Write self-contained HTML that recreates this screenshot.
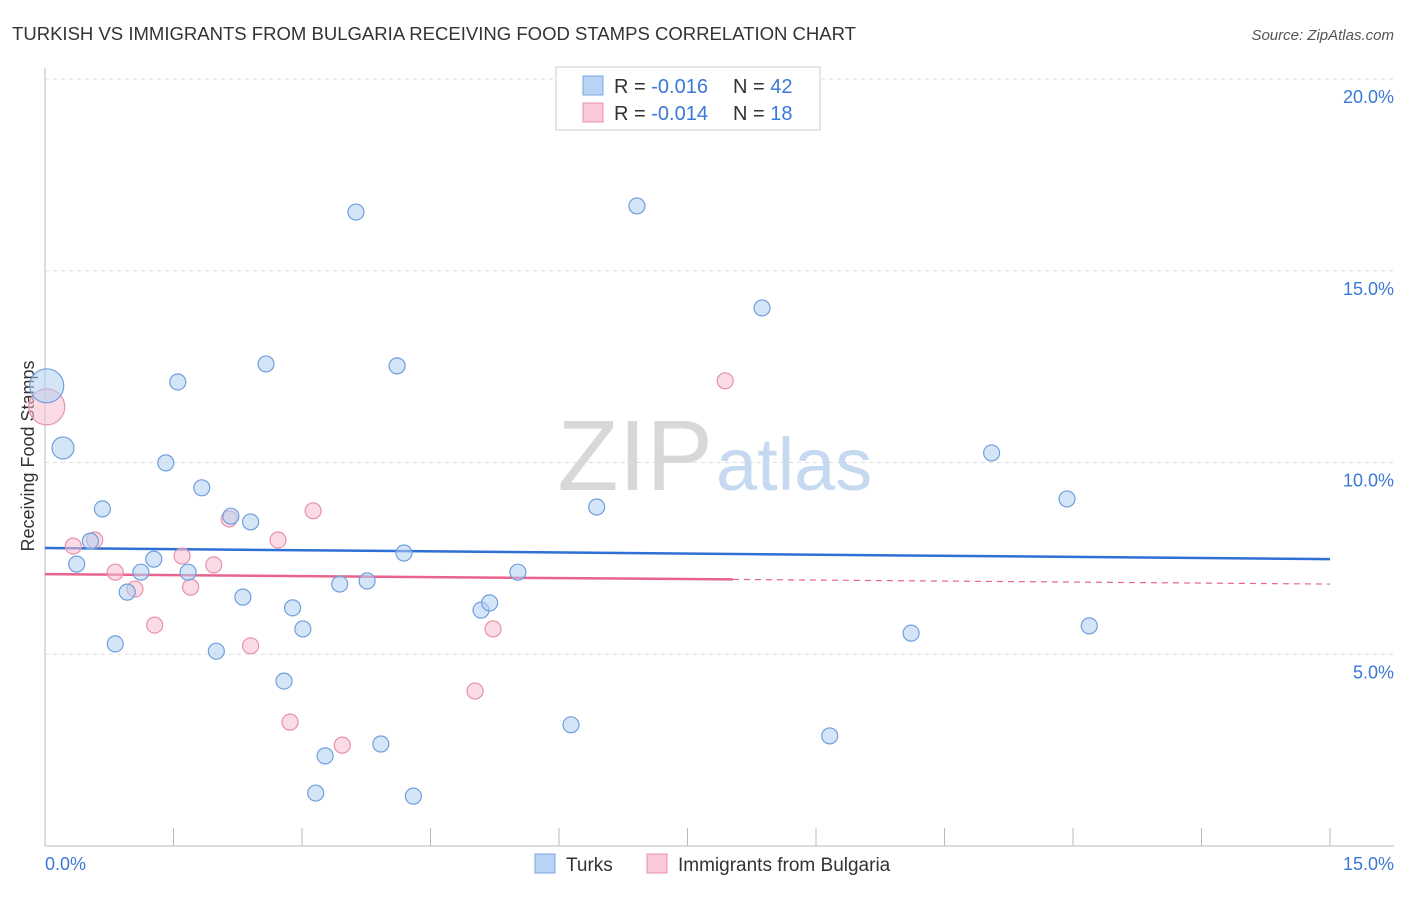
<!DOCTYPE html>
<html><head><meta charset="utf-8"><style>
body{margin:0;background:#fff;font-family:"Liberation Sans",sans-serif;}
svg text{font-family:"Liberation Sans",sans-serif;}
</style></head><body>
<svg id="chart" width="1406" height="892" xmlns="http://www.w3.org/2000/svg">
<text x="12" y="40" font-size="18" fill="#333" textLength="844" lengthAdjust="spacingAndGlyphs">TURKISH VS IMMIGRANTS FROM BULGARIA RECEIVING FOOD STAMPS CORRELATION CHART</text>
<text x="1394" y="40" font-size="15" fill="#555" text-anchor="end" font-style="italic">Source: ZipAtlas.com</text>
<g id="grid"></g>
<text x="713" y="490" font-size="100" fill="#d8d8d8" text-anchor="end" font-family="Liberation Serif">ZIP</text>
<text x="716" y="490" font-size="74" fill="#c5d9f0">atlas</text>
<g id="yticks"></g>
<text transform="translate(34,456) rotate(-90)" font-size="18" fill="#333" text-anchor="middle">Receiving Food Stamps</text>
<text x="45" y="870" font-size="18" fill="#3b78d8">0.0%</text>
<text x="1394" y="870" font-size="18" fill="#3b78d8" text-anchor="end">15.0%</text>
<g id="lines"></g>
<g id="pts"></g>
<g>
<rect x="556" y="67" width="264" height="63" fill="#fff" stroke="#ccc"/>
<rect x="583" y="76" width="20" height="19" fill="#b9d3f5" stroke="#7aa6e0"/>
<rect x="583" y="103" width="20" height="19" fill="#fac8d7" stroke="#e890ab"/>
<text x="614" y="93" font-size="20" fill="#333">R = <tspan fill="#3b78d8">-0.016</tspan><tspan x="733">N = </tspan><tspan fill="#3b78d8">42</tspan></text>
<text x="614" y="120" font-size="20" fill="#333">R = <tspan fill="#3b78d8">-0.014</tspan><tspan x="733">N = </tspan><tspan fill="#3b78d8"> 18</tspan></text>
</g>
<g>
<rect x="535" y="854" width="20" height="19" fill="#b9d3f5" stroke="#7aa6e0"/>
<text x="566" y="871" font-size="19" fill="#333">Turks</text>
<rect x="647" y="854" width="20" height="19" fill="#fac8d7" stroke="#e890ab"/>
<text x="678" y="871" font-size="19" fill="#333">Immigrants from Bulgaria</text>
</g>
</svg>
<script>
const yTicks=[5,10,15,20];
const turksX=[0.02,0.21,0.67,0.53,0.37,0.82,0.96,1.12,1.27,1.41,1.55,1.67,1.83,2.00,2.17,2.31,2.40,2.58,2.79,2.89,3.01,3.16,3.27,3.44,3.63,3.76,3.92,4.11,4.19,4.30,5.09,5.19,5.52,6.14,6.44,6.91,8.37,9.16,10.11,11.05,11.93,12.19];
const turksY=[12.0,10.38,8.79,7.95,7.35,5.27,6.62,7.14,7.48,9.99,12.10,7.14,9.34,5.08,8.60,6.49,8.45,12.57,4.30,6.21,5.66,1.38,2.35,6.83,16.53,6.91,2.66,12.52,7.64,1.30,6.15,6.34,7.14,3.16,8.84,16.69,14.03,2.87,5.55,10.25,9.05,5.74];
const turksR=[17,11,8,8,8,8,8,8,8,8,8,8,8,8,8,8,8,8,8,8,8,8,8,8,8,8,8,8,8,8,8,8,8,8,8,8,8,8,8,8,8,8];
const bulgX=[0.02,0.33,0.58,0.82,1.05,1.28,1.60,1.70,1.97,2.15,2.40,2.72,2.86,3.13,3.47,5.02,5.23,7.94];
const bulgY=[11.45,7.82,7.98,7.14,6.70,5.76,7.56,6.75,7.33,8.53,5.22,7.98,3.23,8.74,2.63,4.04,5.66,12.13];
const bulgR=[18,8,8,8,8,8,8,8,8,8,8,8,8,8,8,8,8,8];
const turksTrend=[7.77,7.48];
const bulgTrend=[7.09,6.83];
const bulgSolidEnd=8.03;
const X=v=>45+v/15*1285, Y=v=>846-v*38.35;
const NS="http://www.w3.org/2000/svg";
function mk(t,a,p){const e=document.createElementNS(NS,t);for(const k in a)e.setAttribute(k,a[k]);p.appendChild(e);return e;}
const grid=document.getElementById('grid'),yt=document.getElementById('yticks');
yTicks.forEach(t=>{
 const l=mk('line',{x1:45,x2:1394,y1:Y(t),y2:Y(t),stroke:'#ddd','stroke-dasharray':'4,4'},grid);
 
 
 const tx=mk('text',{x:1394,y:Y(t)+24,'font-size':18,fill:'#3b78d8','text-anchor':'end'},yt);
 tx.textContent=t.toFixed(1)+'%';
 
 
});
const ax=mk('line',{x1:45,x2:1394,y1:846,y2:846,stroke:'#bbb'},grid);


const ay=mk('line',{x1:45,x2:45,y1:68,y2:846,stroke:'#bbb'},grid);


for(let i=0;i<=10;i++){const tk=mk('line',{x1:X(i*1.5),x2:X(i*1.5),y1:828,y2:846,stroke:'#bbb'},grid);
 
 }
const lines=document.getElementById('lines'),pts=document.getElementById('pts');
function dot(x,y,r,f,s,n){const c=mk('circle',{cx:X(x),cy:Y(y),r:r,fill:f,'fill-opacity':0.55,stroke:s,'stroke-width':1.2},pts);
 
 }
bulgX.forEach((x,i)=>dot(x,bulgY[i],bulgR[i],'#f8bfd0','#e890ab','bulgaria-point'));
turksX.forEach((x,i)=>dot(x,turksY[i],turksR[i],'#b3cff3','#6f9fdd','turks-point'));
const tl=mk('line',{x1:X(0),x2:X(15),y1:Y(turksTrend[0]),y2:Y(turksTrend[1]),stroke:'#2f6fd6','stroke-width':2.5},lines);


const by=x=>bulgTrend[0]+(bulgTrend[1]-bulgTrend[0])*x/15;
const bl=mk('line',{x1:X(0),x2:X(bulgSolidEnd),y1:Y(by(0)),y2:Y(by(bulgSolidEnd)),stroke:'#e8648e','stroke-width':2.5},lines);


const bd=mk('line',{x1:X(bulgSolidEnd),x2:X(15),y1:Y(by(bulgSolidEnd)),y2:Y(by(15)),stroke:'#e8648e','stroke-width':1.2,'stroke-dasharray':'6,5'},lines);


</script>
</body></html>
